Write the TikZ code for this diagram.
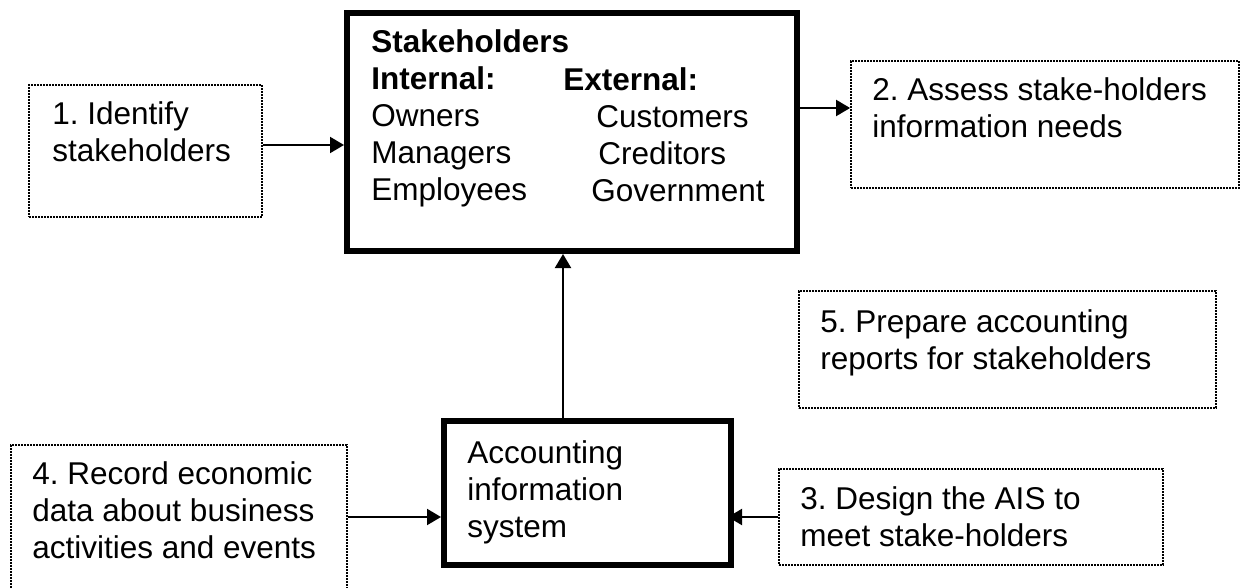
\documentclass[tikz,border=0pt]{standalone}
\usepackage{fontspec}
\setmainfont{Liberation Sans}
\usetikzlibrary{arrows.meta}
\frenchspacing
% one line of a stacked label
\newcommand\tline[1]{\hbox{#1}}
\begin{document}
\begin{tikzpicture}[x=0.5pt,y=-0.5pt,
  thickbox/.style={draw, line width=3pt, rectangle, inner sep=0pt},
  dotbox/.style={draw, line width=0.9pt, dash pattern=on 0.8pt off 0.7pt, rectangle, inner sep=0pt},
  txt/.style={anchor=base west, inner sep=0pt, font=\fontsize{15.75pt}{18.5pt}\selectfont},
  link/.style={line width=1pt, -{Triangle[length=7pt,width=8pt]}}]
\clip (0,0) rectangle (1241,588);
\fill[white] (0,0) rectangle (1241,588);

% main boxes
\node[thickbox, minimum width=225pt, minimum height=119pt] (S) at (572,132) {};
\node[thickbox, minimum width=143.5pt, minimum height=72pt] (A) at (587.5,493) {};

% step boxes
\node[dotbox, minimum width=116.5pt, minimum height=66pt] (B1) at (145.5,151) {};
\node[dotbox, minimum width=194pt, minimum height=63.5pt] (B2) at (1045,124.5) {};
\node[dotbox, minimum width=192pt, minimum height=48pt] (B3) at (971,517) {};
\node[dotbox, minimum width=168pt, minimum height=82.5pt] (B4) at (179,527.5) {};
\node[dotbox, minimum width=208.5pt, minimum height=58.5pt] (B5) at (1007.5,349.5) {};

% texts
\node[txt] (tS) at (371,53) {\vtop{\tline{\bfseries Stakeholders}\tline{\bfseries Internal:}\tline{Owners}\tline{Managers}\tline{Employees}}};
\node[txt] (tSx) at (563,91) {\vtop{\tline{\bfseries External:}\tline{\hspace{16.5pt}Customers}\tline{\hspace{17.5pt}Creditors}\tline{\hspace{14pt}Government}}};
\node[txt] (tA) at (467,463) {\vtop{\tline{Accounting}\tline{information}\tline{system}}};
\node[txt] (t1) at (52,125) {\vtop{\tline{1. Identify}\tline{stakeholders}}};
\node[txt] (t2) at (872,101) {\vtop{\tline{2. Assess stake-holders}\tline{information needs}}};
\node[txt] (t3) at (800,509) {\vtop{\tline{3. Design the AIS to}\tline{meet stake-holders}}};
\node[txt] (t4) at (32,484) {\vtop{\tline{4. Record economic}\tline{data about business}\tline{activities and events}}};
\node[txt] (t5) at (820,332) {\vtop{\tline{5. Prepare accounting}\tline{reports for stakeholders}}};

% connector levels
\coordinate (y1) at (0,145);
\coordinate (y2) at (0,108);
\coordinate (y4) at (0,517);
\coordinate (vx) at (563,0);

% connectors
\draw[link] (B1.east |- y1) -- (S.west |- y1);
\draw[link] (S.east |- y2) -- (B2.west |- y2);
\draw[link, shorten >=-3pt] (B3.west) -- (A.east |- B3.west);
\draw[link] (B4.east |- y4) -- (A.west |- y4);
\draw[link] (A.north -| vx) -- (S.south -| vx);
\end{tikzpicture}
\end{document}
